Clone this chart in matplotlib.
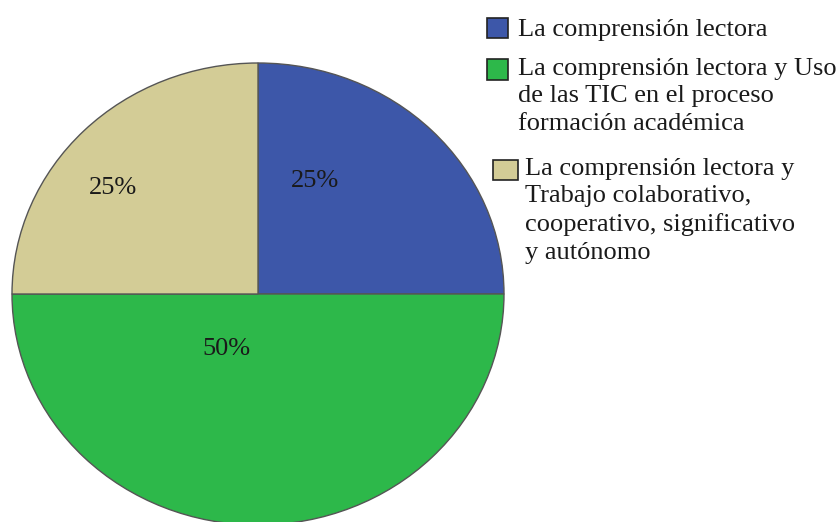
import matplotlib.pyplot as plt
from matplotlib.patches import Rectangle

categories = [
    "La comprensión lectora",
    "La comprensión lectora y Uso\nde las TIC en el proceso\nformación académica",
    "La comprensión lectora y\nTrabajo colaborativo,\ncooperativo, significativo\ny autónomo",
]
shares = [25, 50, 25]
colors = ["#3D57A9", "#2DB84A", "#D3CC96"]

W, H = 840, 522
plt.rcParams['font.family'] = ['Liberation Serif', 'DejaVu Serif']

fig = plt.figure(figsize=(W / 100, H / 100), dpi=100)

# pie spans x 12..504 px and y 63..525 px (slightly squashed ellipse)
left, right, top, bottom = 12, 504, 63, 525
ax = fig.add_axes([left / W, (H - bottom) / H, (right - left) / W, (bottom - top) / H])
wedges, _ = ax.pie(shares, colors=colors, startangle=90, counterclock=False,
                   wedgeprops=dict(edgecolor='#555555', linewidth=1.0))
ax.set_aspect('auto')
ax.set_xlim(-1, 1)
ax.set_ylim(-1, 1)
ax.axis('off')

# percentage labels inside the slices
label_pos = [(0.23, 0.49), (-0.13, -0.24), (-0.59, 0.46)]
for (x, y), v in zip(label_pos, shares):
    ax.text(x, y, f"{v}%", ha='center', va='center', fontsize=19, color='#1a1a1a')

# legend drawn by hand so the swatch lines up with the first text line
entries = [
    (487, 18, 21, 20, 518, 19),
    (487, 59, 21, 21, 518, 58),
    (493, 160, 25, 20, 525, 158),
]
for (sx, sy, sw, sh, tx, ty), c, lab in zip(entries, colors, categories):
    fig.patches.append(Rectangle((sx / W, (H - sy - sh) / H), sw / W, sh / H,
                                 transform=fig.transFigure, facecolor=c,
                                 edgecolor='#222222', linewidth=1.2))
    fig.text(tx / W, (H - ty) / H, lab, ha='left', va='top', fontsize=19,
             color='#1a1a1a', linespacing=1.32)

fig.savefig('out.png', dpi=100)
